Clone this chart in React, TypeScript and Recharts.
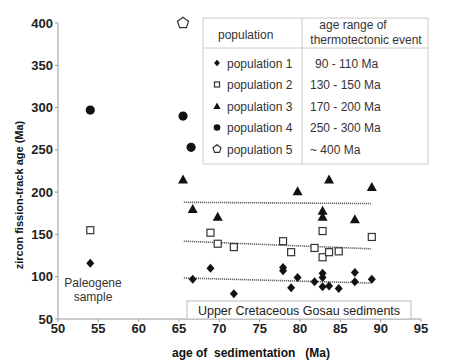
import React from "react";
import {
  ScatterChart,
  Scatter,
  XAxis,
  YAxis,
  ReferenceLine,
} from "recharts";

// [age of sedimentation (Ma), zircon FT age (Ma)]
const pop1: [number, number][] = [
  [54, 116], [66.7, 97], [68.9, 110], [71.8, 80], [77.9, 111], [77.9, 107],
  [78.9, 87], [79.7, 99], [81.8, 94], [82.8, 104], [82.8, 99], [82.8, 88],
  [83.6, 89], [84.8, 86], [86.8, 105], [86.8, 94], [88.9, 97],
];
const pop2: [number, number][] = [
  [54, 155], [68.9, 152], [69.8, 139], [71.8, 135], [77.9, 142], [78.9, 129],
  [81.8, 134], [82.8, 154], [82.8, 123], [83.6, 129], [84.8, 130], [88.9, 147],
];
const pop3: [number, number][] = [
  [65.5, 215], [66.7, 180], [69.8, 171], [79.7, 201], [82.8, 178], [82.8, 171],
  [83.6, 215], [86.8, 168], [88.9, 206],
];
const pop4: [number, number][] = [[54, 297], [65.5, 290], [66.5, 253]];
const pop5: [number, number][] = [[65.5, 400]];

// dotted regression lines, [x, y] end points
const trend1: [number, number][] = [[65.6, 98.5], [88.8, 92.5]];
const trend2: [number, number][] = [[65.6, 142], [88.8, 133]];
const trend3: [number, number][] = [[65.6, 188], [88.8, 186.5]];

const xTicks = [50, 55, 60, 65, 70, 75, 80, 85, 90, 95];
const yTicks = [50, 100, 150, 200, 250, 300, 350, 400];

const legendRows = [
  { key: "p1", name: "population 1", range: "90 - 110 Ma" },
  { key: "p2", name: "population 2", range: "130 - 150 Ma" },
  { key: "p3", name: "population 3", range: "170 - 200 Ma" },
  { key: "p4", name: "population 4", range: "250 - 300 Ma" },
  { key: "p5", name: "population 5", range: "~ 400 Ma" },
];

const FONT = "'Liberation Sans', Arial, sans-serif";
const INK = "#111";

const toPts = (arr: [number, number][]) => arr.map(([x, y]) => ({ x, y }));

function Marker({ kind, cx, cy, s = 1 }: { kind: string; cx: number; cy: number; s?: number }) {
  if (kind === "p1") {
    const w = 4 * s, h = 4.5 * s;
    return <path d={`M${cx},${cy - h}L${cx + w},${cy}L${cx},${cy + h}L${cx - w},${cy}Z`} fill={INK} />;
  }
  if (kind === "p2") {
    const r = 3.5 * s;
    return <rect x={cx - r} y={cy - r} width={2 * r} height={2 * r} fill="#fff" stroke="#333" strokeWidth={1.2} />;
  }
  if (kind === "p3") {
    const r = 5 * s;
    return <path d={`M${cx},${cy - r}L${cx + r},${cy + 0.8 * r}L${cx - r},${cy + 0.8 * r}Z`} fill={INK} />;
  }
  if (kind === "p4") return <circle cx={cx} cy={cy} r={4.6 * s} fill={INK} />;
  const r = 5.8 * s;
  const pts = [0, 1, 2, 3, 4]
    .map((i) => {
      const a = -Math.PI / 2 + (i * 2 * Math.PI) / 5;
      return `${cx + r * Math.cos(a)},${cy + r * Math.sin(a)}`;
    })
    .join(" ");
  return <polygon points={pts} fill="#fff" stroke="#333" strokeWidth={1.2} />;
}

const shapeFor = (kind: string) => (p: any) => <Marker kind={kind} cx={p.cx} cy={p.cy} />;

const dotted = { stroke: "#444", strokeWidth: 1.6, strokeDasharray: "1 1" };

export default function App() {
  return (
    <div style={{ position: "absolute", left: 0, top: 0, width: 450, height: 364, background: "#fff" }}>
      <ScatterChart width={450} height={364} margin={{ top: 23, right: 29, bottom: 0, left: 0 }}>
        <XAxis
          type="number"
          dataKey="x"
          domain={[50, 95]}
          ticks={xTicks}
          height={45}
          tickSize={3}
          stroke="#999"
          tick={{ fill: "#222", fontSize: 13, fontWeight: 700, fontFamily: FONT }}
        />
        <YAxis
          type="number"
          dataKey="y"
          domain={[50, 400]}
          ticks={yTicks}
          width={58}
          tickSize={3}
          stroke="#999"
          tick={{ fill: "#222", fontSize: 13, fontWeight: 700, fontFamily: FONT }}
        />
        {[trend1, trend2, trend3].map((t, i) => (
          <ReferenceLine
            key={i}
            segment={toPts(t)}
            {...dotted}
            ifOverflow="visible"
          />
        ))}
        <Scatter data={toPts(pop1)} shape={shapeFor("p1")} isAnimationActive={false} />
        <Scatter data={toPts(pop2)} shape={shapeFor("p2")} isAnimationActive={false} />
        <Scatter data={toPts(pop3)} shape={shapeFor("p3")} isAnimationActive={false} />
        <Scatter data={toPts(pop4)} shape={shapeFor("p4")} isAnimationActive={false} />
        <Scatter data={toPts(pop5)} shape={shapeFor("p5")} isAnimationActive={false} />
      </ScatterChart>

      {/* annotations, axis titles and the legend table */}
      <svg
        width={450}
        height={364}
        style={{ position: "absolute", left: 0, top: 0, pointerEvents: "none" }}
        fontFamily={FONT}
      >
        <text x={251} y={357} textAnchor="middle" fontSize={12} fontWeight={700} fill="#111" style={{ whiteSpace: "pre" }}>
          {"age of  sedimentation   (Ma)"}
        </text>
        <text
          x={0}
          y={0}
          transform="translate(23,195) rotate(-90)"
          textAnchor="middle"
          fontSize={11}
          fontWeight={700}
          fill="#111"
        >
          zircon fission-track age (Ma)
        </text>

        <text x={93} y={287} textAnchor="middle" fontSize={12} fill="#333">Paleogene</text>
        <text x={93} y={301} textAnchor="middle" fontSize={12} fill="#333">sample</text>

        <rect x={187} y={301} width={224} height={18} fill="#fff" stroke="#bbb" strokeWidth={1} />
        <text x={299} y={315} textAnchor="middle" fontSize={12.5} fill="#222">
          Upper Cretaceous Gosau sediments
        </text>

        <rect x={203} y={18} width={225} height={146} fill="#fff" stroke="#ccc" strokeWidth={1} />
        <line x1={203} y1={48} x2={428} y2={48} stroke="#ccc" />
        <line x1={302} y1={18} x2={302} y2={164} stroke="#ccc" />
        <text x={218} y={39} fontSize={12} fill="#333">population</text>
        <text x={353} y={29} textAnchor="middle" fontSize={12} fill="#333">age range of</text>
        <text x={366} y={44} textAnchor="middle" fontSize={12} fill="#333">thermotectonic event</text>
        {legendRows.map((r, i) => {
          const cy = 63 + i * 21.5;
          return (
            <g key={r.key}>
              <Marker kind={r.key} cx={217} cy={cy} s={0.72} />
              <text x={227} y={cy + 4.5} fontSize={12} fill="#333">{r.name}</text>
              <text x={i === 0 ? 315 : 310} y={cy + 4.5} fontSize={12} fill="#333">{r.range}</text>
            </g>
          );
        })}
      </svg>
    </div>
  );
}
